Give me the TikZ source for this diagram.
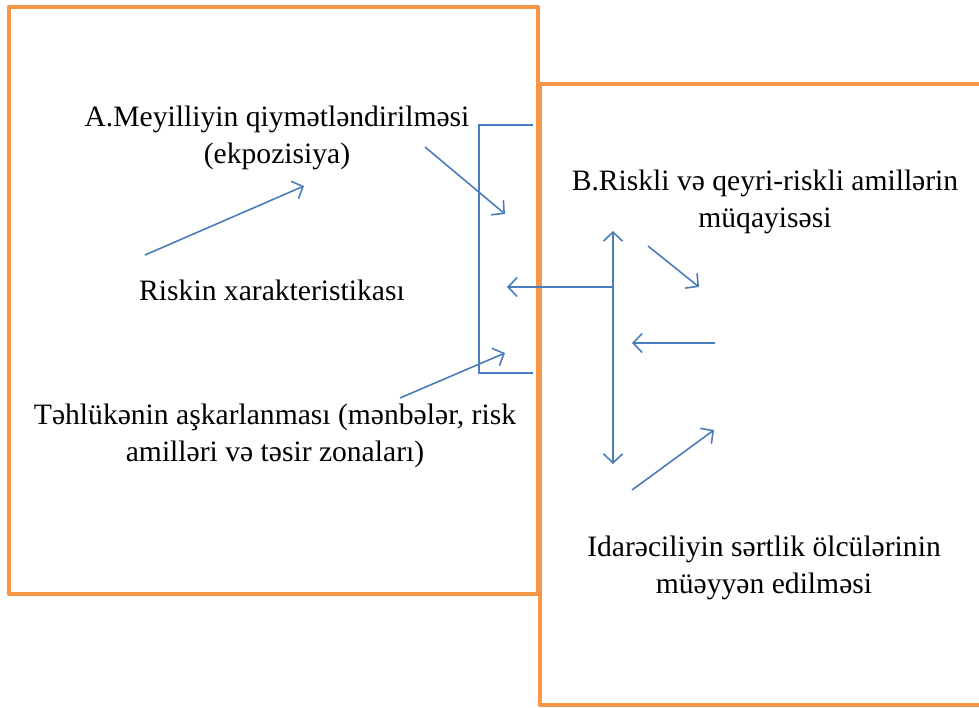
\documentclass[tikz,border=0pt]{standalone}
\usepackage{fontspec}
\setmainfont{Liberation Serif}
\usetikzlibrary{arrows.meta}
\definecolor{boxorange}{HTML}{F79646}
\definecolor{arrblue}{HTML}{4A7EBB}
\tikzset{
  frame/.style={draw=boxorange,line width=4.5pt,line join=round},
  conn/.style={draw=arrblue,line width=1.6pt},
  arr/.style={conn,-{Straight Barb[length=9pt,width=19pt,line width=1.6pt]}},
  darr/.style={conn,{Straight Barb[length=9pt,width=19pt,line width=1.6pt]}-{Straight Barb[length=9pt,width=19pt,line width=1.6pt]}},
  lbl/.style={align=center,font=\fontsize{29.6}{37}\selectfont,inner sep=0pt}
}
\begin{document}
\begin{tikzpicture}[x=1pt,y=-1pt]
\useasboundingbox (0,0) rectangle (979,707);
% boxes
\draw[frame] (9,7) rectangle (538,594);
\draw[frame] (990,84) -- (540,84) -- (540,705) -- (990,705);
% texts
\node[lbl] (a) at (277,138) {A.Meyilliyin qiymətləndirilməsi\\(ekpozisiya)};
\node[lbl] (r) at (272,290) {Riskin xarakteristikası};
\node[lbl] (t) at (275,436) {Təhlükənin aşkarlanması (mənbələr, risk\\amilləri və təsir zonaları)};
\node[lbl] (b) at (765,202) {B.Riskli və qeyri-riskli amillərin\\müqayisəsi};
\node[lbl] (i) at (764,568) {Idarəciliyin sərtlik ölcülərinin\\müəyyən edilməsi};
% coordinates
\coordinate (bt1) at (533,125);
\coordinate (bt2) at (479,125);
\coordinate (bb2) at (479,373);
\coordinate (bb1) at (533,373);
\coordinate (a1s) at (425,147);
\coordinate (a1e) at (505,214);
\coordinate (a2s) at (145,255);
\coordinate (a2e) at (304,186);
\coordinate (a3s) at (400,398);
\coordinate (a3e) at (505,353);
\coordinate (hs) at (613,287);
\coordinate (he) at (507,287);
\coordinate (vt) at (613,231);
\coordinate (vb) at (613,464);
\coordinate (b1s) at (648,246);
\coordinate (b1e) at (699,287);
\coordinate (b2s) at (715,343);
\coordinate (b2e) at (632,343);
\coordinate (b3s) at (632,490);
\coordinate (b3e) at (714,430);
% bracket
\draw[conn] (bt1) -- (bt2) -- (bb2) -- (bb1);
% arrows
\draw[arr] (a1s) -- (a1e);
\draw[arr] (a2s) -- (a2e);
\draw[arr] (a3s) -- (a3e);
\draw[arr] (hs) -- (he);
\draw[darr] (vt) -- (vb);
\draw[arr] (b1s) -- (b1e);
\draw[arr] (b2s) -- (b2e);
\draw[arr] (b3s) -- (b3e);
\end{tikzpicture}
\end{document}
